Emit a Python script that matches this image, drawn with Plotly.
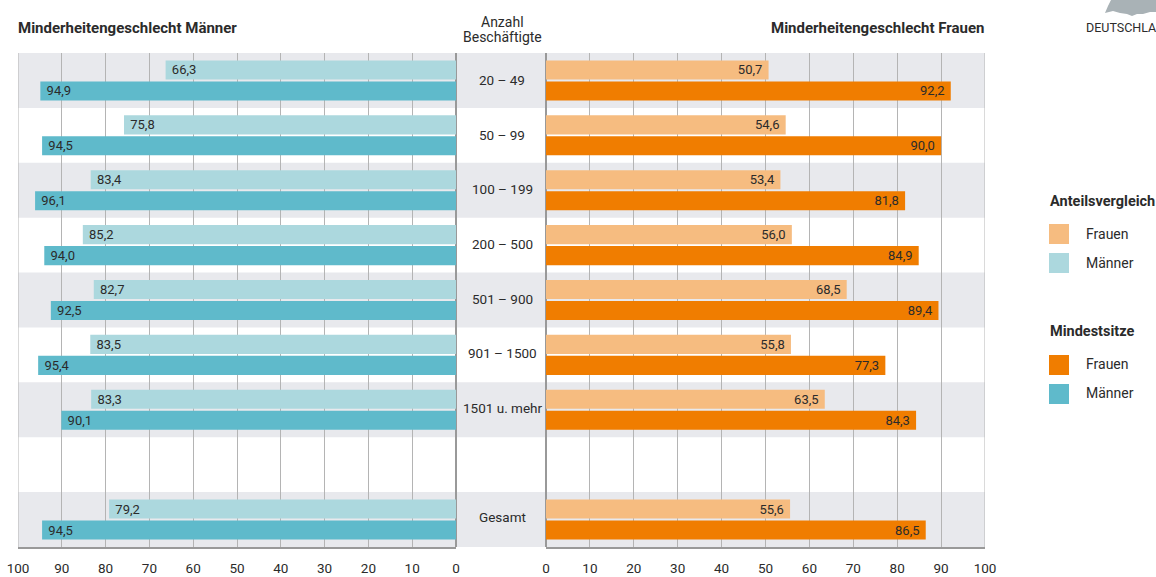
import plotly.graph_objects as go

W, H = 1156, 577
FONT = "Roboto"
TEXT = "#2b2b2b"

categories = ["20 – 49", "50 – 99", "100 – 199", "200 – 500", "501 – 900",
              "901 – 1500", "1501 u. mehr", " ", "Gesamt"]
label_shift = [0, 0, 1, 1, 1, 2, 2, 0, 3]
men_share = [66.3, 75.8, 83.4, 85.2, 82.7, 83.5, 83.3, None, 79.2]
men_min = [94.9, 94.5, 96.1, 94.0, 92.5, 95.4, 90.1, None, 94.5]
women_share = [50.7, 54.6, 53.4, 56.0, 68.5, 55.8, 63.5, None, 55.6]
women_min = [92.2, 90.0, 81.8, 84.9, 89.4, 77.3, 84.3, None, 86.5]
axis_ticks = [0, 10, 20, 30, 40, 50, 60, 70, 80, 90, 100]

C_MEN_L, C_MEN_D = "#acd8de", "#5fbacb"
C_WOM_L, C_WOM_D = "#f6bc80", "#f07d00"
BAND = "#e8e9ed"
GRID = "#b4b4b4"
AXIS = "#999999"
NBSP = "\u00a0"


def px(x):
    return x / W


def py(y):
    return 1 - y / H


fig = go.Figure()


def add_bar(name, vals, color, xaxis, yaxis, pad_left):
    def fmt(v):
        if v is None:
            return None
        s = f"{v:.1f}".replace(".", ",")
        return NBSP + s if pad_left else s + NBSP

    fig.add_trace(go.Bar(
        name=name, y=categories, x=vals, orientation="h",
        marker=dict(color=color, line=dict(width=0)),
        text=[fmt(v) for v in vals],
        textposition="inside", insidetextanchor="end", textangle=0,
        constraintext="none",
        textfont=dict(family=FONT, size=13, color=TEXT),
        xaxis=xaxis, yaxis=yaxis, showlegend=False, cliponaxis=False,
        hoverinfo="skip",
    ))


add_bar("Anteilsvergleich Männer", men_share, C_MEN_L, "x", "y", True)
add_bar("Mindestsitze Männer", men_min, C_MEN_D, "x", "y", True)
add_bar("Anteilsvergleich Frauen", women_share, C_WOM_L, "x2", "y2", False)
add_bar("Mindestsitze Frauen", women_min, C_WOM_D, "x2", "y2", False)

shapes = []
for i in range(0, len(categories), 2):
    shapes.append(dict(type="rect", xref="paper", yref="y",
                       x0=px(18), x1=px(985), y0=i - 0.5, y1=i + 0.5,
                       fillcolor=BAND, line=dict(width=0), layer="below"))

for xr in ("x", "x2"):
    shapes.append(dict(type="line", xref=xr, yref="paper", x0=100, x1=100,
                       y0=py(547), y1=py(53), line=dict(color=GRID, width=1), layer="below"))


def swatch(y, color):
    shapes.append(dict(type="rect", xref="paper", yref="paper",
                       x0=px(1049), x1=px(1069), y0=py(y), y1=py(y + 20),
                       fillcolor=color, line=dict(width=0)))


swatch(224, C_WOM_L)
swatch(253, C_MEN_L)
swatch(355, C_WOM_D)
swatch(384, C_MEN_D)

map_outline = [(1105, 13), (1108, 6), (1111, 0), (1156, 0), (1156, 12), (1150, 12), (1143, 14),
               (1137, 14), (1132, 16), (1127, 14), (1120, 13), (1113, 11)]
path = "M " + " L ".join(f"{px(x):.5f},{py(y):.5f}" for x, y in map_outline) + " Z"
shapes.append(dict(type="path", xref="paper", yref="paper", path=path,
                   fillcolor="#a9b2b6", line=dict(width=0)))

annotations = []


def label(x, y, text, size=14, bold=False, anchor="left", color=TEXT):
    annotations.append(dict(
        xref="paper", yref="paper", x=px(x), y=py(y), text=f"<b>{text}</b>" if bold else text,
        showarrow=False, xanchor=anchor, yanchor="middle", align="center",
        font=dict(family=FONT, size=size, color=color),
        borderpad=0, borderwidth=0,
    ))


label(18, 28, "Minderheitengeschlecht Männer", 15, True)
label(985, 28, "Minderheitengeschlecht Frauen", 15, True, "right")
label(502, 22, "Anzahl", 14, False, "center")
label(502, 37, "Beschäftigte", 14, False, "center")
label(1050, 202, "Anteilsvergleich", 14.5, True)
label(1050, 331, "Mindestsitze", 14.5, True)
label(1086, 234, "Frauen", 14)
label(1086, 263, "Männer", 14)
label(1086, 364, "Frauen", 14)
label(1086, 393, "Männer", 14)
label(1156, 27, "DEUTSCHLA", 12.5, False, "right")

for c, shift in zip(categories, label_shift):
    annotations.append(dict(
        xref="paper", yref="y", x=px(502), y=c, text=c, showarrow=False,
        xanchor="center", yanchor="middle", yshift=shift,
        font=dict(family=FONT, size=13.5, color=TEXT),
    ))

x_common = dict(
    tickmode="array", tickvals=axis_ticks, ticktext=[str(t) for t in axis_ticks],
    showgrid=True, gridcolor=GRID, gridwidth=1,
    zeroline=True, zerolinecolor=AXIS, zerolinewidth=2,
    showline=True, linecolor=AXIS, linewidth=2,
    ticks="outside", ticklen=8, tickcolor="rgba(0,0,0,0)", tickwidth=1,
    tickfont=dict(family=FONT, size=13.5, color=TEXT),
    automargin=False,
)
y_common = dict(
    type="category", categoryorder="array", categoryarray=categories,
    range=[len(categories) - 0.5, -0.5], domain=[py(547), py(53)],
    showticklabels=False, showgrid=False, zeroline=False, showline=False, ticks="",
    automargin=False,
)

fig.update_layout(
    width=W, height=H, autosize=False,
    margin=dict(l=0, r=0, t=0, b=0, pad=0, autoexpand=False),
    paper_bgcolor="white", plot_bgcolor="rgba(0,0,0,0)",
    barmode="group", bargap=0.236, bargroupgap=0.09,
    shapes=shapes, annotations=annotations,
    xaxis={**x_common, "anchor": "y", "domain": [px(18), px(456)], "range": [100, 0]},
    xaxis2={**x_common, "anchor": "y2", "domain": [px(546), px(985)], "range": [0, 100]},
    yaxis={**y_common, "anchor": "x"},
    yaxis2={**y_common, "anchor": "x2"},
)

fig.write_html("out.html", config={"displayModeBar": False},
               post_script="document.body.style.margin='0';")
